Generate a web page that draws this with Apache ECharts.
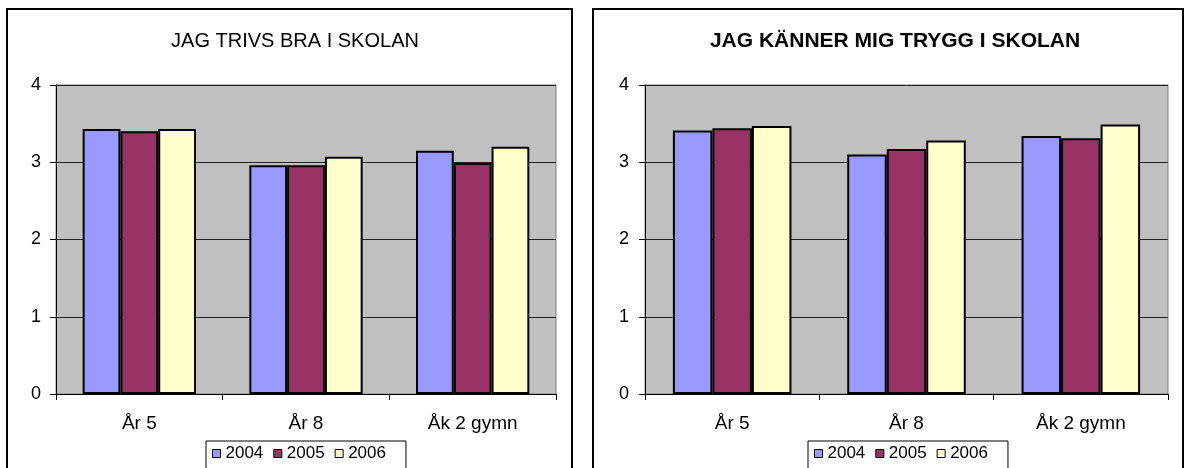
<!DOCTYPE html>
<html>
<head>
<meta charset="utf-8">
<script src="https://cdn.jsdelivr.net/npm/echarts@6/dist/echarts.min.js"></script>
<style>
html,body{margin:0;padding:0;background:#fff;}
#c{width:1186px;height:468px;}
</style>
</head>
<body>
<div id="c"></div>
<script>
const categories = ['År 5', 'År 8', 'Åk 2 gymn'];
const years = ['2004', '2005', '2006'];
const colors = ['#9999FF', '#993366', '#FFFFCC'];
const titles = ['JAG TRIVS BRA I SKOLAN', 'JAG KÄNNER MIG TRYGG I SKOLAN'];
const yTicks = [0, 1, 2, 3, 4];

// Left chart: JAG TRIVS BRA I SKOLAN
const trivs2004 = [3.43, 2.96, 3.15];
const trivs2005 = [3.40, 2.96, 2.99];
const trivs2006 = [3.43, 3.07, 3.20];
// Right chart: JAG KÄNNER MIG TRYGG I SKOLAN
const trygg2004 = [3.41, 3.10, 3.34];
const trygg2005 = [3.44, 3.17, 3.31];
const trygg2006 = [3.47, 3.28, 3.49];

const leftData = [trivs2004, trivs2005, trivs2006];
const rightData = [trygg2004, trygg2005, trygg2006];

const FONT = 'Liberation Sans, Arial, sans-serif';

function xAxis(gi) {
  return {
    type: 'category', gridIndex: gi, data: categories,
    axisLine: {lineStyle: {color: '#000', width: 1}},
    axisTick: {show: true, length: 6, lineStyle: {color: '#000'}},
    axisLabel: {color: '#000', fontSize: 19, fontFamily: FONT, margin: 20}
  };
}
function yAxis(gi, margin) {
  return {
    type: 'value', gridIndex: gi, min: yTicks[0], max: yTicks[yTicks.length - 1], interval: 1,
    axisLine: {show: true, lineStyle: {color: '#000', width: 1}},
    axisTick: {show: true, length: 6, lineStyle: {color: '#000'}},
    axisLabel: {color: '#000', fontSize: 18, fontFamily: FONT, margin: margin,
      formatter: v => yTicks.includes(v) ? String(v) : ''},
    splitLine: {show: true, lineStyle: {color: '#222', width: 1}}
  };
}
function series(dataSet, gi) {
  return years.map((y, i) => ({
    name: y, type: 'bar', xAxisIndex: gi, yAxisIndex: gi,
    data: dataSet[i], barGap: 0, barCategoryGap: '32%',
    itemStyle: {color: colors[i], borderColor: '#000', borderWidth: 2},
    emphasis: {disabled: true}
  }));
}
function legend(left) {
  return {
    data: years, left: left, top: 441, orient: 'horizontal',
    itemWidth: 8, itemHeight: 8, itemGap: 10, icon: 'rect',
    borderColor: '#000', borderWidth: 1, padding: [4, 20, 12, 6],
    backgroundColor: '#fff',
    itemStyle: {borderColor: '#000', borderWidth: 1},
    textStyle: {color: '#000', fontSize: 17, fontFamily: FONT}
  };
}

const chart = echarts.init(document.getElementById('c'), null, {renderer: 'canvas'});
chart.setOption({
  animation: false,
  backgroundColor: '#fff',
  graphic: [
    {type: 'rect', shape: {x: 7, y: 9, width: 565, height: 470}, style: {fill: 'none', stroke: '#000', lineWidth: 2}, z: -1},
    {type: 'rect', shape: {x: 593, y: 9, width: 590, height: 470}, style: {fill: 'none', stroke: '#000', lineWidth: 2}, z: -1}
  ],
  title: [
    {text: titles[0], left: 290, top: 26, textAlign: 'center',
     textStyle: {fontSize: 20, fontWeight: 'normal', color: '#000', fontFamily: FONT}},
    {text: titles[1], left: 890, top: 26, textAlign: 'center',
     textStyle: {fontSize: 21, fontWeight: 'bold', color: '#000', fontFamily: FONT}}
  ],
  legend: [legend(206), legend(808)],
  grid: [
    {left: 56, right: 1186 - 556, top: 85, bottom: 468 - 394, show: true,
     backgroundColor: '#C0C0C0', borderColor: '#808080', borderWidth: 1},
    {left: 645, right: 1186 - 1168, top: 85, bottom: 468 - 394, show: true,
     backgroundColor: '#C0C0C0', borderColor: '#808080', borderWidth: 1}
  ],
  xAxis: [xAxis(0), xAxis(1)],
  yAxis: [yAxis(0, 15), yAxis(1, 16)],
  series: series(leftData, 0).concat(series(rightData, 1))
});
</script>
</body>
</html>
